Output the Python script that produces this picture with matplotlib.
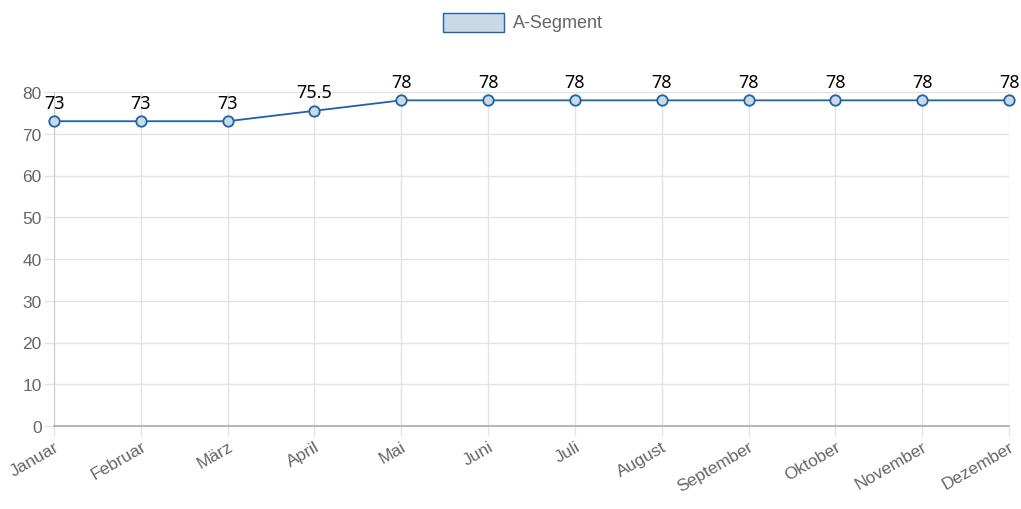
import matplotlib
matplotlib.use("Agg")
import matplotlib.pyplot as plt
from matplotlib.patches import Rectangle

months = ["Januar", "Februar", "März", "April", "Mai", "Juni", "Juli",
          "August", "September", "Oktober", "November", "Dezember"]
values = [73, 73, 73, 75.5, 78, 78, 78, 78, 78, 78, 78, 78]
series_name = "A-Segment"
yticks = [0, 10, 20, 30, 40, 50, 60, 70, 80]

line_color = "#1f63a6"
face_color = "#c9d9e8"
grid_color = "#e3e3e3"
text_grey = "#666666"

fig = plt.figure(figsize=(10.21, 5.10), dpi=100)
ax = fig.add_axes([54/1021, 83/510, (1009-54)/1021, (427-93)/510])

x = list(range(len(months)))
ax.plot(x, values, color=line_color, linewidth=1.3, marker="o", markersize=7.5,
        markerfacecolor=face_color, markeredgecolor=line_color, markeredgewidth=1.3,
        zorder=3, clip_on=False)

for xi, v in zip(x, values):
    lbl = f"{v:g}"
    ax.annotate(lbl, (xi, v), xytext=(0, 7), textcoords="offset points",
                ha="center", va="bottom", fontsize=13, color="black",
                family="Noto Sans", annotation_clip=False)

ax.set_xlim(0, len(months) - 1)
ax.set_ylim(0, 80)
ax.set_yticks(yticks)
ax.set_xticks(x)
ax.set_xticklabels(months, rotation=30, ha="right", va="top", rotation_mode="anchor",
                   fontsize=12.5, color=text_grey, family="Liberation Sans")
ax.set_yticklabels([str(t) for t in yticks], fontsize=12.5, color=text_grey,
                   family="Liberation Sans")
ax.tick_params(axis="both", length=7, color=grid_color, width=1)
ax.tick_params(axis="x", pad=2)
ax.tick_params(axis="y", pad=2)
ax.grid(True, color=grid_color, linewidth=1)
ax.set_axisbelow(True)
for s in ["top", "right"]:
    ax.spines[s].set_visible(False)
ax.spines["left"].set_color("#cccccc")
ax.spines["bottom"].set_color("#aaaaaa")
ax.spines["bottom"].set_linewidth(1.2)

# legend
fig.patches.append(Rectangle((443/1021, 1 - 33/510), 61/1021, 19/510,
                             transform=fig.transFigure, facecolor=face_color,
                             edgecolor=line_color, linewidth=1))
fig.text(513/1021, 1 - 23.5/510, series_name, fontsize=13, color=text_grey,
         va="center", ha="left", family="Liberation Sans")

fig.savefig("out.png", dpi=100)
